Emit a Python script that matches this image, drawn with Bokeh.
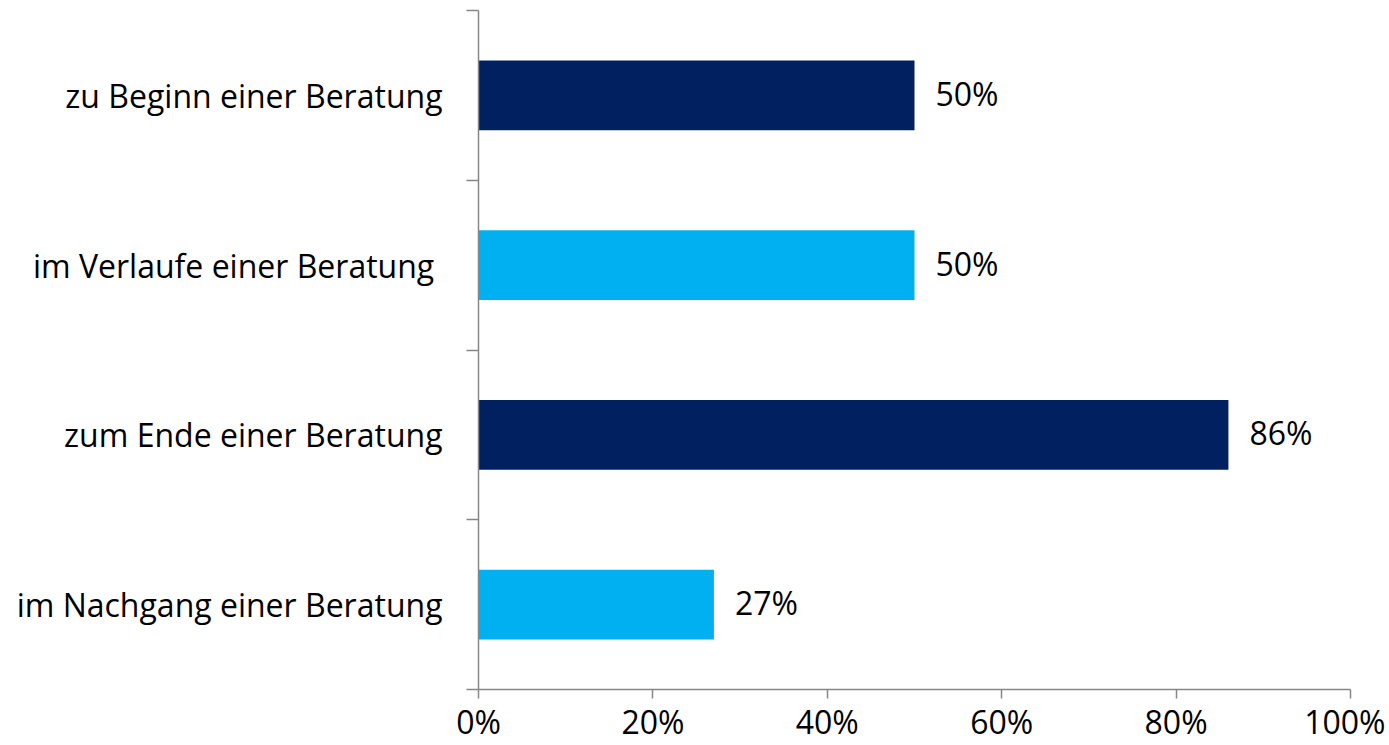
from bokeh.plotting import figure
from bokeh.models import FixedTicker, ColumnDataSource, Range1d
from bokeh.core.properties import value
from bokeh.embed import file_html
from bokeh.resources import INLINE

categories = ["zu Beginn einer Beratung", "im Verlaufe einer Beratung\u00a0",
              "zum Ende einer Beratung", "im Nachgang einer Beratung"]
values = [50, 50, 86, 27]
colors = ["#002060", "#00B0F0", "#002060", "#00B0F0"]
x_ticks = [0, 20, 40, 60, 80, 100]

FONT = "Open Sans"
FS = "32px"
n = len(categories)
# top category at top
ypos = [n - i - 0.5 for i in range(n)]

src = ColumnDataSource(dict(y=ypos, v=values, c=colors,
                            lab=[f"{v}%" for v in values]))

W, H = 1385, 745
p = figure(width=W, height=H, output_backend="svg", toolbar_location=None,
           x_range=Range1d(0, 100), y_range=Range1d(0, n),
           min_border_left=478, min_border_right=W - 1350,
           min_border_top=10, min_border_bottom=H - 690)
p.outline_line_color = None
p.xgrid.grid_line_color = None
p.ygrid.grid_line_color = None
p.background_fill_color = "white"
p.border_fill_color = "white"

p.hbar(y="y", right="v", left=0, height=0.41, fill_color="c", line_color=None, source=src)
p.text(x="v", y="y", text="lab", source=src, x_offset=21, y_offset=-2, text_baseline="middle",
       text_align="left", text_font=value(FONT), text_font_size=FS, text_color="black")

ax = p.xaxis[0]
ax.ticker = FixedTicker(ticks=x_ticks, minor_ticks=[])
ax.major_label_overrides = {t: f"{t}%" for t in x_ticks}
ax.axis_line_color = "#868686"
ax.axis_line_width = 1.5
ax.major_tick_line_color = "#868686"
ax.major_tick_line_width = 1.5
ax.major_tick_in = 0
ax.major_tick_out = 9
ax.major_label_text_font = FONT
ax.major_label_text_font_size = FS
ax.major_label_text_color = "black"
ax.major_label_standoff = 1

ay = p.yaxis[0]
ay.ticker = FixedTicker(ticks=ypos, minor_ticks=list(range(n + 1)))
ay.major_label_overrides = {y: c for y, c in zip(ypos, categories)}
ay.axis_line_color = "#868686"
ay.axis_line_width = 1.5
ay.major_tick_line_color = None
ay.major_tick_in = 0
ay.major_tick_out = 0
ay.minor_tick_line_color = "#868686"
ay.minor_tick_line_width = 1.5
ay.minor_tick_in = 0
ay.minor_tick_out = 12
ay.major_label_text_font = FONT
ay.major_label_text_font_size = FS
ay.major_label_text_color = "black"
ay.major_label_standoff = 24

open("out.html", "w").write(file_html(p, INLINE))
